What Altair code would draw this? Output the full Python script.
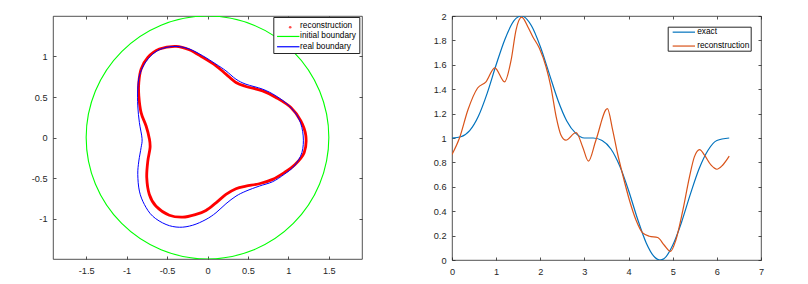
import altair as alt
import pandas as pd

# ---------------- left panel: boundaries (x, y) ----------------
real_x = [1.183, 1.133, 1.010, 0.846, 0.681, 0.475, 0.352, 0.228, 0.105, -0.059,
          -0.225, -0.389, -0.553, -0.677, -0.780, -0.842, -0.862, -0.862, -0.842, -0.809,
          -0.821, -0.849, -0.862, -0.842, -0.780, -0.677, -0.512, -0.348, -0.183, -0.019,
          0.105, 0.228, 0.352, 0.475, 0.640, 0.805, 0.948, 1.072, 1.167]
real_y = [0.019, 0.225, 0.390, 0.514, 0.597, 0.658, 0.720, 0.823, 0.906, 1.009,
          1.092, 1.125, 1.100, 1.030, 0.906, 0.761, 0.597, 0.390, 0.184, -0.014,
          -0.125, -0.291, -0.455, -0.662, -0.827, -0.972, -1.074, -1.108, -1.083, -1.012,
          -0.929, -0.818, -0.724, -0.662, -0.600, -0.546, -0.455, -0.353, -0.187]

recon_x = [1.216, 1.154, 1.031, 0.846, 0.681, 0.475, 0.352, 0.228, 0.105, -0.059,
           -0.225, -0.389, -0.595, -0.738, -0.821, -0.849, -0.849, -0.821, -0.759, -0.719,
           -0.710, -0.738, -0.751, -0.719, -0.636, -0.472, -0.306, -0.142, -0.019, 0.105,
           0.228, 0.352, 0.475, 0.640, 0.805, 0.948, 1.072, 1.195]
recon_y = [0.019, 0.204, 0.370, 0.494, 0.575, 0.630, 0.679, 0.782, 0.885, 0.989,
           1.083, 1.125, 1.092, 0.989, 0.844, 0.679, 0.514, 0.308, 0.142, -0.014,
           -0.125, -0.291, -0.496, -0.703, -0.848, -0.959, -0.984, -0.950, -0.901, -0.806,
           -0.703, -0.632, -0.600, -0.571, -0.517, -0.434, -0.344, -0.187]

init_x = [1.5, 1.386, 1.061, 0.574, 0.0, -0.574, -1.061, -1.386,
          -1.5, -1.386, -1.061, -0.574, 0.0, 0.574, 1.061, 1.386]
init_y = [0.0, 0.574, 1.061, 1.386, 1.5, 1.386, 1.061, 0.574,
          0.0, -0.574, -1.061, -1.386, -1.5, -1.386, -1.061, -0.574]

# ---------------- right panel ----------------
exact_t = [0.0, 0.2, 0.4, 0.6, 0.8, 1.0, 1.2, 1.4, 1.57, 1.8, 2.0, 2.2, 2.4, 2.6, 2.8,
           3.0, 3.2, 3.4, 3.6, 3.8, 4.0, 4.2, 4.4, 4.6, 4.71, 4.8, 5.0, 5.2, 5.4, 5.6,
           5.8, 6.0, 6.28]
exact_v = [1.0, 1.01, 1.06, 1.18, 1.37, 1.60, 1.81, 1.96, 2.0, 1.92, 1.75, 1.53, 1.31, 1.14, 1.04,
           1.0, 1.0, 0.98, 0.91, 0.77, 0.57, 0.34, 0.14, 0.02, 0.0, 0.01, 0.12, 0.31, 0.54, 0.75,
           0.90, 0.98, 1.0]

rec_t = [0.0, 0.17, 0.36, 0.58, 0.77, 0.97, 1.19, 1.34, 1.45, 1.58, 1.72, 1.83, 1.98, 2.13,
         2.24, 2.36, 2.47, 2.58, 2.81, 2.96, 3.09, 3.26, 3.52, 3.64, 3.75, 3.86, 4.02, 4.17,
         4.32, 4.47, 4.66, 4.81, 4.95, 5.07, 5.23, 5.38, 5.49, 5.61, 5.72, 5.87, 6.0, 6.13, 6.28]
rec_v = [0.865, 1.0, 1.23, 1.41, 1.46, 1.575, 1.46, 1.64, 1.885, 1.99, 1.91, 1.83, 1.735, 1.584,
         1.42, 1.174, 1.023, 0.982, 1.045, 0.927, 0.81, 0.982, 1.24, 1.064, 0.873, 0.709, 0.49, 0.326,
         0.222, 0.195, 0.184, 0.121, 0.071, 0.162, 0.408, 0.681, 0.845, 0.905, 0.859, 0.777, 0.744, 0.777, 0.851]

left_series = ["reconstruction", "initial boundary", "real boundary"]
left_colors = ["#ff0000", "#00ff00", "#0000ff"]
right_series = ["exact", "reconstruction"]
right_colors = ["#0072bd", "#d95319"]

left_xticks = [-1.5, -1, -0.5, 0, 0.5, 1, 1.5]
left_yticks = [-1, -0.5, 0, 0.5, 1]
right_xticks = [0, 1, 2, 3, 4, 5, 6, 7]
right_yticks = [0, 0.2, 0.4, 0.6, 0.8, 1, 1.2, 1.4, 1.6, 1.8, 2]

FONT = "Liberation Sans"
AX = "#262626"


def frame(names, xs_list, ys_list, xname, yname):
    rows = []
    for name, xs, ys in zip(names, xs_list, ys_list):
        for i, (a, b) in enumerate(zip(xs, ys)):
            rows.append({"series": name, "i": i, xname: a, yname: b})
    return pd.DataFrame(rows)


left_df = frame(left_series, [recon_x, init_x, real_x], [recon_y, init_y, real_y], "x", "y")
right_df = frame(right_series, [exact_t, rec_t], [exact_v, rec_v], "t", "v")


def panel(df, xf, yf, xdom, ydom, xticks, yticks, W, H, series, colors, widths,
          interp, yext, legend_props, dot_series=None, dot_legend=None):
    xs = alt.Scale(domain=xdom, nice=False, zero=False)
    ys = alt.Scale(domain=ydom, nice=False, zero=False)
    lab = dict(labelFont=FONT, labelFontSize=9.2, labelColor=AX, labelExpr="datum.value + ''",
               labelFlush=False, labelOverlap=False, grid=False, domain=False, ticks=False,
               title=None)
    x_main = alt.Axis(orient="bottom", values=xticks, labelPadding=7, **lab)
    y_main = alt.Axis(orient="left", values=yticks, labelPadding=6, minExtent=yext,
                      maxExtent=yext, **lab)
    tk = dict(labels=False, domain=False, grid=False, ticks=True, tickSize=3, tickColor=AX,
              tickWidth=0.8, title=None, minExtent=0, maxExtent=0)
    # a dotted series gets a transparent stroke entry; its dot comes from a second legend
    legend_colors = [("rgba(0,0,0,0)" if s == dot_series else c) for s, c in zip(series, colors)]
    color = alt.Color("series:N", scale=alt.Scale(domain=series, range=legend_colors),
                      legend=alt.Legend(**legend_props))
    layers = []
    for k, (s, c, w) in enumerate(zip(series, colors, widths)):
        first = k == 0
        enc = dict(
            x=alt.X(f"{xf}:Q", scale=xs, axis=x_main if first else None),
            y=alt.Y(f"{yf}:Q", scale=ys, axis=y_main if first else None),
            order=alt.Order("i:Q"),
        )
        if s == dot_series:
            mk = alt.Chart(df).transform_filter(alt.datum.series == s).mark_line(
                strokeWidth=w, interpolate=interp, clip=True, color=c)
        else:
            mk = alt.Chart(df).transform_filter(alt.datum.series == s).mark_line(
                strokeWidth=w, interpolate=interp, clip=True)
            enc["color"] = color
        layers.append(mk.encode(**enc))
    if dot_series is not None:
        dot_color = colors[series.index(dot_series)]
        layers.append(
            alt.Chart(df).transform_filter(alt.datum.i < 0)
            .transform_calculate(marker="datum.series")
            .mark_point(filled=True, color=dot_color)
            .encode(
                x=alt.X(f"{xf}:Q", scale=xs, axis=None),
                y=alt.Y(f"{yf}:Q", scale=ys, axis=None),
                shape=alt.Shape("marker:N",
                                scale=alt.Scale(domain=[dot_series], range=["circle"]),
                                legend=alt.Legend(**dot_legend)),
            )
        )
    # inward ticks on all four sides
    layers.append(
        alt.Chart(df).mark_line(opacity=0).encode(
            x=alt.X(f"{xf}:Q", scale=xs,
                    axis=alt.Axis(orient="top", offset=-H, values=xticks, **tk)),
            y=alt.Y(f"{yf}:Q", scale=ys,
                    axis=alt.Axis(orient="right", offset=-W, values=yticks, **tk)),
            order=alt.Order("i:Q"),
        )
    )
    layers.append(
        alt.Chart(df).mark_line(opacity=0).encode(
            x=alt.X(f"{xf}:Q", scale=xs,
                    axis=alt.Axis(orient="bottom", offset=-H, values=xticks, **tk)),
            y=alt.Y(f"{yf}:Q", scale=ys,
                    axis=alt.Axis(orient="left", offset=-W, values=yticks, **tk)),
            order=alt.Order("i:Q"),
        )
    )
    return (alt.layer(*layers)
            .resolve_axis(x="independent", y="independent")
            .properties(width=W, height=H))


legend_common = dict(orient="none", fillColor="white", strokeColor=AX,
                     cornerRadius=0, symbolType="M-5,0L5,0", symbolSize=20,
                     symbolStrokeWidth=1.2, labelFont=FONT, labelFontSize=8.3,
                     labelColor="black")

dot_legend = dict(orient="none", title=None, legendX=235.7, legendY=9.7, padding=0,
                  symbolSize=7, symbolStrokeWidth=0, symbolFillColor="#ff0000",
                  symbolOffset=0, labelExpr="''", labelFontSize=1, labelOpacity=0,
                  strokeColor="transparent", fillColor="transparent")

left = panel(left_df, "x", "y", [-1.91, 1.91], [-1.5, 1.5], left_xticks, left_yticks,
             309, 243, left_series, left_colors, [2.8, 1.1, 1.0], "cardinal-closed", 44,
             dict(legendX=220.3, legendY=1.0, padding=2.5, rowPadding=1.3, symbolOffset=8.3,
                  labelOffset=7.7, title=" ", titleFontSize=1, titlePadding=1.5,
                  **legend_common),
             dot_series="reconstruction", dot_legend=dot_legend)

right = panel(right_df, "t", "v", [0, 7], [0, 2], right_xticks, right_yticks,
              309, 244, right_series, right_colors, [1.2, 1.2], "monotone", 30,
              dict(legendX=215.7, legendY=10.7, padding=1.3, rowPadding=4.9, symbolOffset=10.7,
                   labelOffset=9.2, title=None, **legend_common))

chart = (alt.hconcat(left, right, spacing=58)
         .resolve_scale(color="independent")
         .properties(padding={"left": 0, "top": 3, "right": 5, "bottom": 0})
         .configure_view(stroke=AX, strokeWidth=0.8))

chart.save("out.html", embed_options={"renderer": "svg", "actions": False})
